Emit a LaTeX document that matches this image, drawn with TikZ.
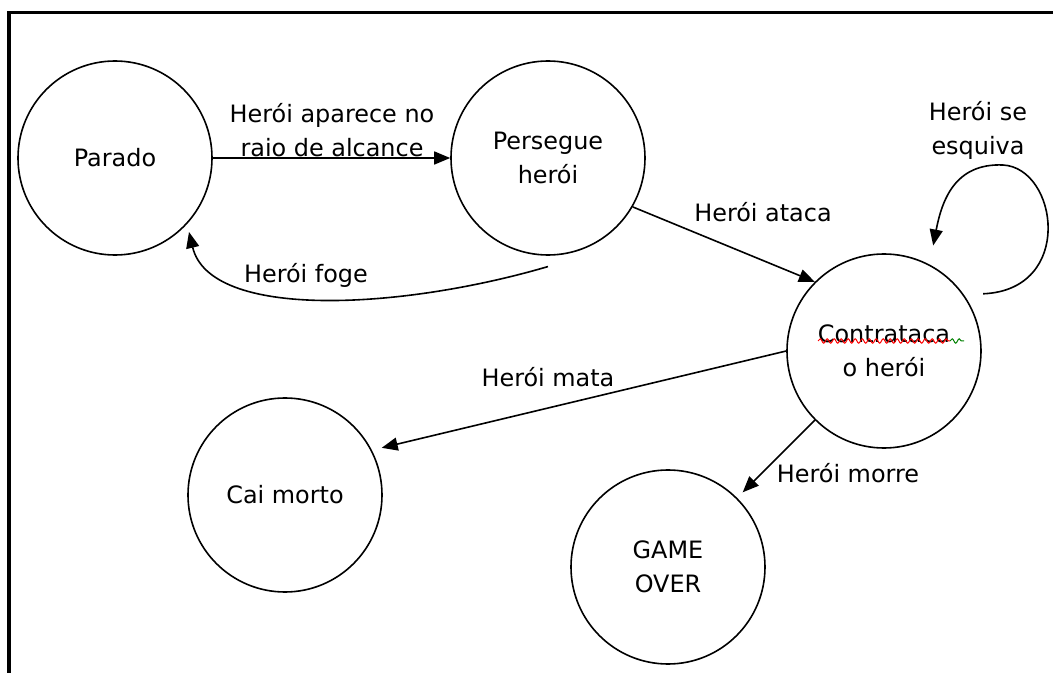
\documentclass[tikz,border=0pt]{standalone}
\usepackage{fontspec}
\setmainfont{DejaVu Sans}
\usetikzlibrary{arrows.meta}
\usetikzlibrary{calc}
\usetikzlibrary{decorations.pathmorphing}
\definecolor{frameColor}{HTML}{000000}
\definecolor{stateLineColor}{HTML}{000000}
\definecolor{linkColor}{HTML}{000000}
\definecolor{labelTextColor}{HTML}{000000}
\definecolor{spellColorA}{HTML}{FF0000}
\definecolor{spellColorB}{HTML}{008000}
\def\textParado{Parado}
\def\textPersegue{Persegue\\her\'oi}
\def\textContra{Contrataca\\o her\'oi}
\def\textCaiMorto{Cai morto}
\def\textGameOver{GAME\\OVER}
\tikzset{
  state/.style={circle, draw=stateLineColor, line width=0.8bp, inner sep=0pt,
    minimum size=97bp, align=center, font=\fontsize{12}{17}\selectfont},
  link/.style={draw=linkColor, line width=0.8bp,
    -{Triangle[length=8bp,width=6.5bp]}},
  linklabel/.style={align=center, inner sep=0pt, text=labelTextColor,
    font=\fontsize{12}{17}\selectfont},
  spell/.style={line width=0.5bp, decorate,
    decoration={snake, amplitude=1.1bp, segment length=3.5bp}}
}

\begin{document}
\begin{tikzpicture}[x=0.5bp,y=-0.5bp]
\useasboundingbox (0,0) rectangle (1053,673);

% frame
\begin{scope}
\draw[frameColor, line width=1.5bp] (9,673) -- (9,13) -- (1053,13);
\end{scope}

% state layer
\begin{scope}
\node[state] (parado) at (115,158) {\textParado};
\node[state] (persegue) at (548,158) {\textPersegue};
\node[state] (contra) at (884,351) {\textContra};
\node[state] (caimorto) at (285,495) {\textCaiMorto};
\node[state] (gameover) at (668,567) {\textGameOver};
\end{scope}

% spell check marks
\begin{scope}
\draw[spell, spellColorA] (818,341) -- (950,341);
\draw[spell, spellColorB] (950,341) -- (964,341);
\end{scope}

% link layer
\begin{scope}
\draw[link] (parado.east) -- (persegue.west);
\draw[link] (persegue.-30) -- (contra.135);
\draw[link] ($(persegue.center)!1.11!(persegue.south)$) .. controls
(400,310) and (210,320) .. ($(parado.center)!1.07!(parado.-45)$);
\draw[link] ($(contra.center)!1.17!(contra.30)$) .. controls
(1075,290) and (1058,168) .. (1003,165) .. controls
(955,163) and (942,200) .. ($(contra.center)!1.19!(contra.65)$);
\draw[link] (contra.west) -- ($(caimorto.center)!1.1!(caimorto.26)$);
\draw[link] (contra.-135) -- ($(gameover.center)!1.08!(gameover.45)$);
\end{scope}

% label layer
\begin{scope}
\node[linklabel] (lblAparece) at (332,130) {Her\'oi aparece no\\raio de alcance};
\node[linklabel] (lblAtaca) at (763,212) {Her\'oi ataca};
\node[linklabel] (lblFoge) at (306,275) {Her\'oi foge};
\node[linklabel] (lblEsquiva) at (978,130) {Her\'oi se\\esquiva};
\node[linklabel] (lblMata) at (548,377) {Her\'oi mata};
\node[linklabel] (lblMorre) at (848,473) {Her\'oi morre};
\end{scope}

\end{tikzpicture}
\end{document}
